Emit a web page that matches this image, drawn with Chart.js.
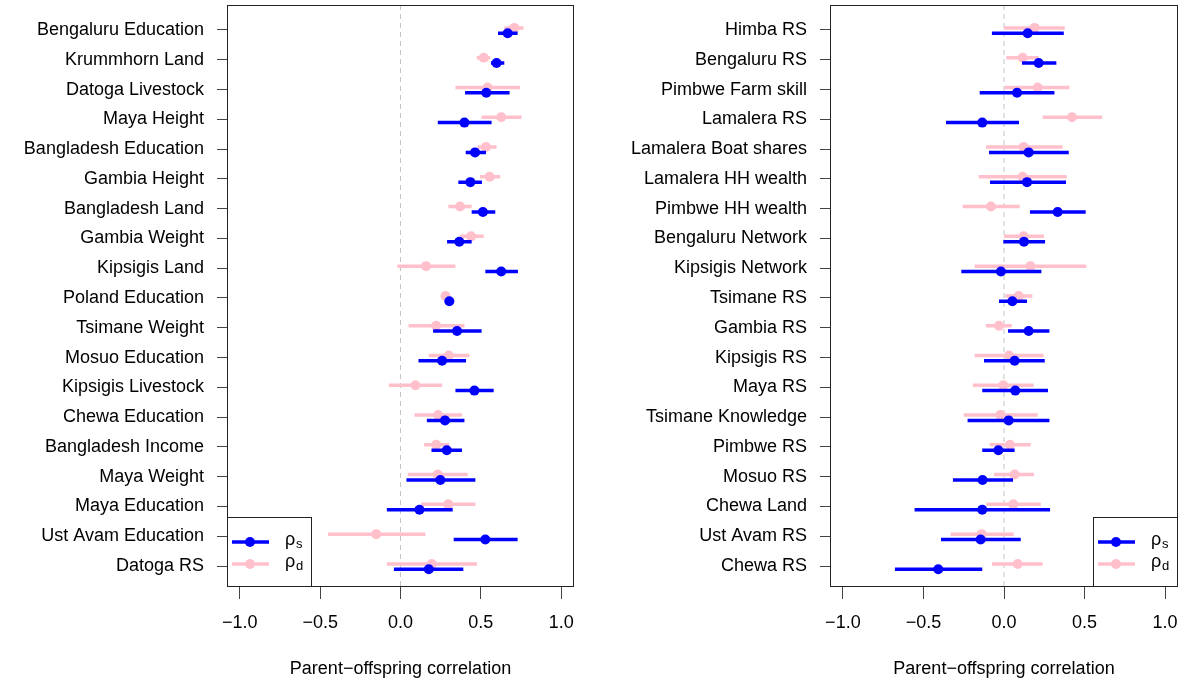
<!DOCTYPE html>
<html>
<head>
<meta charset="utf-8">
<script src="https://cdn.jsdelivr.net/npm/chart.js@4"></script>
<style>
  html, body { margin: 0; padding: 0; background: #fff; }
  .panel { position: absolute; top: 0; width: 592px; height: 684px; }
</style>
</head>
<body>
<div class="panel" style="left:0"><canvas id="leftChart" width="592" height="684"></canvas></div>
<div class="panel" style="left:592px"><canvas id="rightChart" width="592" height="684"></canvas></div>
<script>
const xTicks = [-1, -0.5, 0, 0.5, 1];
const axisTitle = 'Parent\u2212offspring correlation';

// left panel
const leftLabels = ['Bengaluru Education', 'Krummhorn Land', 'Datoga Livestock', 'Maya Height', 'Bangladesh Education',
  'Gambia Height', 'Bangladesh Land', 'Gambia Weight', 'Kipsigis Land', 'Poland Education', 'Tsimane Weight',
  'Mosuo Education', 'Kipsigis Livestock', 'Chewa Education', 'Bangladesh Income', 'Maya Weight', 'Maya Education',
  'Ust Avam Education', 'Datoga RS'];
const leftRhoS   = [0.667, 0.598, 0.534, 0.398, 0.464, 0.435, 0.513, 0.366, 0.627, 0.304, 0.352, 0.259, 0.460, 0.277, 0.288, 0.248, 0.118, 0.528, 0.176];
const leftRhoSLo = [0.607, 0.563, 0.402, 0.232, 0.406, 0.360, 0.443, 0.290, 0.528, 0.290, 0.203, 0.112, 0.342, 0.164, 0.193, 0.037, -0.085, 0.331, -0.041];
const leftRhoSHi = [0.729, 0.646, 0.679, 0.567, 0.532, 0.507, 0.590, 0.443, 0.731, 0.318, 0.505, 0.408, 0.580, 0.398, 0.383, 0.466, 0.325, 0.729, 0.391];
const leftRhoD   = [0.708, 0.518, 0.542, 0.627, 0.532, 0.555, 0.371, 0.439, 0.159, 0.280, 0.222, 0.300, 0.093, 0.234, 0.222, 0.232, 0.298, -0.151, 0.195];
const leftRhoDLo = [0.646, 0.474, 0.342, 0.505, 0.480, 0.495, 0.298, 0.371, -0.020, 0.270, 0.050, 0.176, -0.072, 0.087, 0.147, 0.046, 0.128, -0.451, -0.085];
const leftRhoDHi = [0.766, 0.557, 0.745, 0.754, 0.598, 0.621, 0.443, 0.518, 0.342, 0.290, 0.398, 0.429, 0.259, 0.383, 0.304, 0.418, 0.466, 0.155, 0.476];

// right panel
const rightLabels = ['Himba RS', 'Bengaluru RS', 'Pimbwe Farm skill', 'Lamalera RS', 'Lamalera Boat shares',
  'Lamalera HH wealth', 'Pimbwe HH wealth', 'Bengaluru Network', 'Kipsigis Network', 'Tsimane RS', 'Gambia RS',
  'Kipsigis RS', 'Maya RS', 'Tsimane Knowledge', 'Pimbwe RS', 'Mosuo RS', 'Chewa Land', 'Ust Avam RS', 'Chewa RS'];
const rightRhoS   = [0.147, 0.215, 0.081, -0.135, 0.153, 0.143, 0.333, 0.124, -0.019, 0.052, 0.153, 0.066, 0.070, 0.029, -0.035, -0.133, -0.135, -0.145, -0.408];
const rightRhoSLo = [-0.075, 0.112, -0.151, -0.360, -0.093, -0.087, 0.161, -0.004, -0.265, -0.031, 0.025, -0.124, -0.135, -0.226, -0.135, -0.317, -0.555, -0.391, -0.677];
const rightRhoSHi = [0.371, 0.325, 0.313, 0.093, 0.402, 0.385, 0.507, 0.255, 0.232, 0.143, 0.282, 0.253, 0.273, 0.282, 0.066, 0.056, 0.286, 0.104, -0.135];
const rightRhoD   = [0.190, 0.116, 0.209, 0.422, 0.122, 0.116, -0.081, 0.122, 0.164, 0.091, -0.031, 0.031, -0.004, -0.023, 0.037, 0.066, 0.058, -0.139, 0.085];
const rightRhoDLo = [0.000, 0.014, 0.004, 0.240, -0.112, -0.157, -0.257, 0.000, -0.182, 0.008, -0.112, -0.182, -0.193, -0.250, -0.089, -0.062, -0.110, -0.331, -0.075];
const rightRhoDHi = [0.377, 0.215, 0.406, 0.609, 0.364, 0.389, 0.097, 0.248, 0.511, 0.176, 0.048, 0.246, 0.184, 0.209, 0.166, 0.186, 0.228, 0.060, 0.240];

const BLUE = '#0000ff';
const PINK = '#ffc0cb';
const FONT = 'Liberation Sans, Arial, sans-serif';
const yMin = 0.161, yMax = 19.705;
const offS = 0.11, offD = -0.07;

function segments(lo, hi, off) {
  return lo.flatMap((v, i) => [{ x: v, y: i + 1 + off }, { x: hi[i], y: i + 1 + off }, { x: null, y: null }]);
}
function points(est, off) {
  return est.map((v, i) => ({ x: v, y: i + 1 + off }));
}
function fmtTick(v) {
  return v.toFixed(1).replace('-', '\u2212');
}
function noPad(axis) {
  axis.paddingTop = 0;
  axis.paddingBottom = 0;
  axis.paddingLeft = 0;
  axis.paddingRight = 0;
}

// box around the plot + legend
const boxPlugin = {
  id: 'rhoBox',
  afterDatasetsDraw(chart, args, opts) {
    const { ctx, chartArea: a } = chart;
    ctx.save();
    ctx.strokeStyle = '#222';
    ctx.lineWidth = 1;
    ctx.strokeRect(Math.round(a.left) + 0.5, Math.round(a.top) + 0.5, Math.round(a.right - a.left) - 1, Math.round(a.bottom - a.top) - 1);

    const w = 85, h = 70;
    const x0 = opts.side === 'left' ? Math.round(a.left) : Math.round(a.right) - w;
    const y0 = Math.round(a.bottom) - h;
    ctx.fillStyle = '#fff';
    ctx.fillRect(x0, y0, w, h);
    ctx.strokeRect(x0 + 0.5, y0 + 0.5, w - 1, h - 1);

    const items = [{ c: BLUE, sub: 's', y: y0 + 25 }, { c: PINK, sub: 'd', y: y0 + 47 }];
    items.forEach(it => {
      ctx.strokeStyle = it.c;
      ctx.lineWidth = 3.5;
      ctx.beginPath();
      ctx.moveTo(x0 + 5, it.y);
      ctx.lineTo(x0 + 42, it.y);
      ctx.stroke();
      ctx.fillStyle = it.c;
      ctx.beginPath();
      ctx.arc(x0 + 23, it.y, 5, 0, Math.PI * 2);
      ctx.fill();
      ctx.fillStyle = '#000';
      ctx.textBaseline = 'alphabetic';
      ctx.textAlign = 'left';
      ctx.font = '18px ' + FONT;
      ctx.fillText('\u03c1', x0 + 58, it.y + 3);
      ctx.font = '13px ' + FONT;
      ctx.fillText(it.sub, x0 + 69, it.y + 6);
    });
    ctx.restore();
  }
};

function makePanel(id, labels, sEst, sLo, sHi, dEst, dLo, dHi, side, yWidth, padRight) {
  const ctx = document.getElementById(id).getContext('2d');
  new Chart(ctx, {
    type: 'line',
    data: {
      datasets: [
        { data: points(sEst, offS), showLine: false, pointRadius: 5, pointHoverRadius: 5, pointBorderWidth: 0, pointBackgroundColor: BLUE, borderColor: BLUE },
        { data: segments(sLo, sHi, offS), borderColor: BLUE, borderWidth: 3.5, pointRadius: 0, spanGaps: false, borderCapStyle: 'butt' },
        { data: points(dEst, offD), showLine: false, pointRadius: 5, pointHoverRadius: 5, pointBorderWidth: 0, pointBackgroundColor: PINK, borderColor: PINK },
        { data: segments(dLo, dHi, offD), borderColor: PINK, borderWidth: 3.5, pointRadius: 0, spanGaps: false, borderCapStyle: 'butt' },
        { data: [{ x: 0, y: yMin }, { x: 0, y: yMax }], borderColor: '#c4c4c4', borderWidth: 1, borderDash: [5, 4], pointRadius: 0 }
      ]
    },
    options: {
      responsive: false,
      animation: false,
      layout: { padding: { top: 5, right: padRight, left: 0, bottom: 0 } },
      plugins: {
        legend: { display: false },
        tooltip: { enabled: false },
        rhoBox: { side: side }
      },
      scales: {
        x: {
          type: 'linear',
          min: -1.08,
          max: 1.08,
          afterBuildTicks: axis => { axis.ticks = xTicks.map(v => ({ value: v })); },
          afterFit: axis => { axis.height = 97; noPad(axis); },
          ticks: { autoSkip: false, maxRotation: 0, padding: 13, color: '#000', font: { family: FONT, size: 18 }, callback: v => fmtTick(v) },
          grid: { drawOnChartArea: false, drawTicks: true, tickLength: 12, color: '#444' },
          border: { display: false },
          title: { display: true, text: axisTitle, color: '#000', font: { family: FONT, size: 18 }, padding: { top: 0, bottom: 4 } }
        },
        y: {
          type: 'linear',
          reverse: true,
          min: yMin,
          max: yMax,
          afterBuildTicks: axis => { axis.ticks = labels.map((_, i) => ({ value: i + 1 })); },
          afterFit: axis => { axis.width = yWidth; noPad(axis); },
          ticks: { autoSkip: false, padding: 13, color: '#000', font: { family: FONT, size: 18 }, callback: (v, i) => labels[i] },
          grid: { drawOnChartArea: false, drawTicks: true, tickLength: 10, color: '#444' },
          border: { display: false }
        }
      }
    },
    plugins: [boxPlugin]
  });
}

makePanel('leftChart', leftLabels, leftRhoS, leftRhoSLo, leftRhoSHi, leftRhoD, leftRhoDLo, leftRhoDHi, 'left', 227, 18);
makePanel('rightChart', rightLabels, rightRhoS, rightRhoSLo, rightRhoSHi, rightRhoD, rightRhoDLo, rightRhoDHi, 'right', 238, 6);
</script>
</body>
</html>
